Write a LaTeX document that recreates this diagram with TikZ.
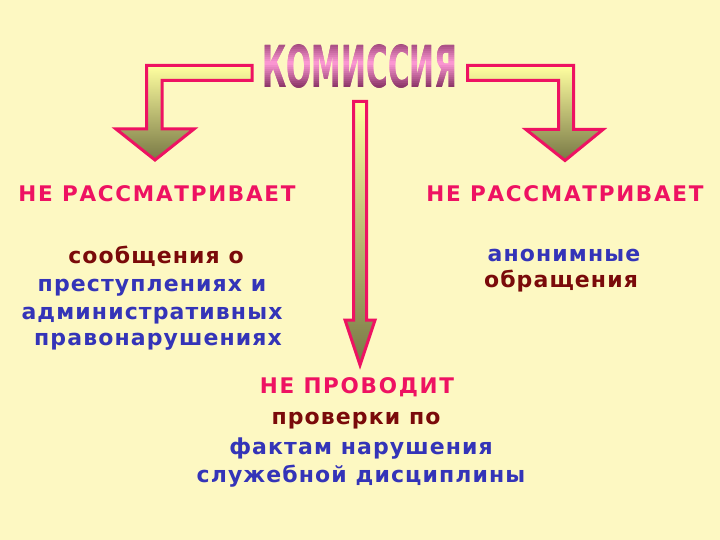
\documentclass[tikz,border=0pt]{standalone}
\usepackage{fontspec}
\setmainfont{DejaVu Sans}
\newfontfamily\titlefont{DejaVu Sans Condensed}
\newfontfamily\headfont[LetterSpace=8]{DejaVu Sans}
\newfontfamily\bodyfont[LetterSpace=5]{DejaVu Sans}
\definecolor{bg}{HTML}{FDF8C2}
\definecolor{crim}{HTML}{EE1262}
\definecolor{dred}{HTML}{7A0A0A}
\definecolor{blu}{HTML}{3434B8}
\definecolor{ayel}{HTML}{FFFFA0}
\definecolor{aolv}{HTML}{787845}
\definecolor{tdark}{HTML}{8A3466}
\definecolor{tpink}{HTML}{FF9AD6}
\tikzset{
  blockarrow/.style={draw=crim, line width=3pt, line join=miter, top color=ayel, bottom color=aolv},
  head/.style={font=\headfont\bfseries\fontsize{21.5}{21.5}\selectfont, inner sep=0pt, anchor=base, text=crim},
  body/.style={font=\bodyfont\bfseries\fontsize{22}{22}\selectfont, inner sep=0pt, anchor=base},
  titletxt/.style={font=\titlefont\bfseries\fontsize{58}{58}\selectfont, xscale=0.57, inner sep=0pt, anchor=center},
}
\begin{document}
\begin{tikzpicture}[x=1pt,y=-1pt]
\useasboundingbox[fill=bg] (0,0) rectangle (720,540);
% title with vertical gradient made of clipped strips
\coordinate (title) at (360,66);
\foreach \i in {0,...,23}{
  \pgfmathsetmacro\yy{44+2*\i}
  \pgfmathsetmacro\pc{max(0,100-abs(\yy+1-64)/24*100)}
  \begin{scope}
    \clip (240,\yy) rectangle (480,\yy+2.1);
    \node[titletxt, text=tpink!\pc!tdark] (t\i) at (title) {КОМИССИЯ};
  \end{scope}
}
% arrows
\shade[blockarrow] (252,65.5) -- (146.5,65.5) -- (146.5,129) -- (116,129) -- (155,160) -- (194,129) -- (162,129) -- (162,80.5) -- (252,80.5) -- cycle;
\shade[blockarrow] (467.5,65.5) -- (573.5,65.5) -- (573.5,129.5) -- (603,129.5) -- (565,160.5) -- (526,129.5) -- (558.5,129.5) -- (558.5,80.5) -- (467.5,80.5) -- cycle;
\shade[blockarrow] (353.5,101.5) -- (366.5,101.5) -- (366.5,320) -- (375,320) -- (360,365) -- (345,320) -- (353.5,320) -- cycle;
% left block
\node[head] (l1) at (157,202) {НЕ РАССМАТРИВАЕТ};
\node[body, text=dred] (l2) at (156,263) {сообщения о};
\node[body, text=blu] (l3) at (152,291) {преступлениях и};
\node[body, text=blu] (l4) at (152,319) {административных};
\node[body, text=blu] (l5) at (158,345) {правонарушениях};
% right block
\node[head] (r1) at (565,202) {НЕ РАССМАТРИВАЕТ};
\node[body, text=blu] (r2) at (564,261) {анонимные};
\node[body, text=dred] (r3) at (561,287) {обращения};
% bottom block
\node[head] (b1) at (357,393) {НЕ ПРОВОДИТ};
\node[body, text=dred] (b2) at (356,424) {проверки по};
\node[body, text=blu] (b3) at (361,454) {фактам нарушения};
\node[body, text=blu] (b4) at (361,482) {служебной дисциплины};
\end{tikzpicture}
\end{document}
